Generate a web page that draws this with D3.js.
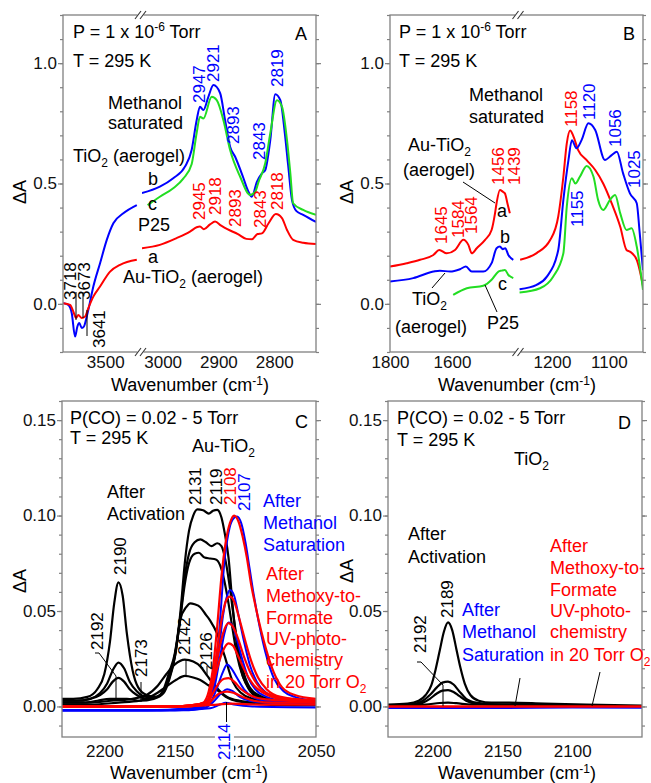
<!DOCTYPE html>
<html>
<head>
<meta charset="utf-8">
<script src="https://cdn.jsdelivr.net/npm/d3@7"></script>
<style>
  body { margin: 0; background: #fff; }
  svg { font-family: "Liberation Sans", Arial, sans-serif; }
</style>
</head>
<body>
<div id="chart-wrapper"></div>
<script>
// ---------- Data: [wavenumber (cm-1), dA] ----------

// Panel A, O-H region (left of the axis break)
const aBlueOH = [[3768,0.003],[3736,-0.004],[3714,-0.039],[3693,-0.136],[3678,-0.094],[3666,-0.08],[3650,-0.10],[3636,-0.094],[3623,-0.066],[3608,-0.025],[3576,0.072],[3533,0.169],[3490,0.266],[3448,0.335],[3384,0.376],[3298,0.41]]
const aRedOH = [[3768,0.003],[3725,-0.004],[3700,-0.039],[3687,-0.059],[3672,-0.046],[3650,-0.059],[3629,-0.053],[3608,-0.018],[3576,0.03],[3533,0.072],[3469,0.134],[3405,0.162],[3298,0.183]]
// Panel A, C-H region (right of the break)
const aBlueCH = [[3037,0.46],[3005,0.487],[2981,0.522],[2960,0.57],[2948,0.639],[2939,0.763],[2933,0.819],[2927,0.805],[2918,0.86],[2909,0.909],[2897,0.876],[2888,0.763],[2879,0.653],[2870,0.611],[2856,0.528],[2847,0.47],[2840,0.445],[2831,0.507],[2822,0.542],[2816,0.556],[2807,0.68],[2798,0.871],[2789,0.846],[2781,0.71],[2775,0.577],[2768,0.43],[2760,0.385],[2748,0.37],[2725,0.34]]
const aGreenCH = [[3027,0.41],[3005,0.445],[2981,0.48],[2963,0.52],[2948,0.58],[2939,0.71],[2933,0.777],[2927,0.77],[2912,0.86],[2903,0.846],[2891,0.763],[2879,0.639],[2861,0.528],[2843,0.452],[2834,0.466],[2828,0.507],[2816,0.584],[2807,0.708],[2795,0.846],[2786,0.819],[2777,0.68],[2771,0.542],[2766,0.418],[2748,0.39],[2725,0.37]]
const aRedCH = [[3037,0.231],[3005,0.245],[2975,0.273],[2951,0.30],[2939,0.318],[2933,0.321],[2926,0.31],[2915,0.33],[2906,0.342],[2895,0.325],[2884,0.31],[2865,0.29],[2850,0.27],[2840,0.268],[2830,0.29],[2822,0.293],[2810,0.335],[2797,0.373],[2786,0.356],[2777,0.307],[2766,0.266],[2748,0.254],[2725,0.249]]

// Panel B, 1800-1400 region
const bRedL = [[1800,0.155],[1746,0.169],[1703,0.183],[1660,0.203],[1641,0.224],[1617,0.21],[1590,0.224],[1563,0.266],[1547,0.245],[1536,0.21],[1520,0.231],[1493,0.266],[1472,0.307],[1461,0.376],[1456,0.418],[1445,0.473],[1436,0.466],[1429,0.459],[1421,0.418],[1413,0.376]]
const bBlueL = [[1800,0.093],[1725,0.107],[1660,0.134],[1639,0.138],[1606,0.134],[1574,0.144],[1555,0.155],[1536,0.134],[1499,0.134],[1472,0.169],[1456,0.231],[1445,0.238],[1436,0.227],[1428,0.231],[1418,0.203],[1402,0.183]]
const bGreenL = [[1596,0.037],[1552,0.065],[1499,0.075],[1472,0.10],[1450,0.134],[1440,0.138],[1429,0.141],[1418,0.12],[1402,0.107]]
// Panel B, 1260-1040 region
const bRedR = [[1256,0.183],[1227,0.211],[1203,0.266],[1189,0.363],[1180,0.528],[1174,0.667],[1168,0.72],[1163,0.70],[1154,0.639],[1139,0.597],[1124,0.556],[1110,0.5],[1095,0.417],[1080,0.32],[1069,0.224],[1063,0.217],[1051,0.183],[1040,0.075]]
const bBlueR = [[1257,0.061],[1227,0.079],[1209,0.113],[1189,0.224],[1180,0.432],[1171,0.598],[1165,0.68],[1157,0.646],[1148,0.68],[1136,0.75],[1124,0.722],[1107,0.598],[1095,0.618],[1086,0.632],[1075,0.542],[1063,0.459],[1051,0.418],[1046,0.30],[1040,0.14]]
const bGreenR = [[1257,0.047],[1221,0.065],[1198,0.113],[1180,0.21],[1174,0.404],[1165,0.522],[1159,0.5],[1151,0.528],[1139,0.573],[1127,0.528],[1119,0.432],[1110,0.39],[1098,0.432],[1089,0.452],[1080,0.376],[1069,0.307],[1060,0.314],[1051,0.238],[1040,0.058]]

// Panel C, CO on Au-TiO2 (one entry per CO pressure)
const cBlack = [
  [[2232,0.004],[2222,0.004],[2212,0.005],[2205,0.009],[2200,0.017],[2196,0.034],[2193,0.054],[2190,0.065],[2187,0.058],[2184,0.038],[2180,0.019],[2176,0.010],[2170,0.006],[2163,0.005],[2158,0.009],[2154,0.018],[2150,0.028],[2146,0.05],[2143,0.075],[2140,0.092],[2137,0.1],[2134,0.1032],[2130,0.1028],[2126,0.101],[2123,0.1025],[2120,0.103],[2117,0.099],[2114.5,0.09],[2112,0.078],[2109,0.052],[2106,0.032],[2103,0.019],[2099,0.011],[2094,0.006],[2085,0.0035],[2070,0.0025],[2050,0.002]],
  [[2232,0.003],[2220,0.003],[2210,0.004],[2203,0.007],[2198,0.012],[2194,0.019],[2190,0.023],[2186,0.02],[2182,0.013],[2177,0.008],[2170,0.005],[2163,0.005],[2158,0.008],[2154,0.016],[2150,0.027],[2146,0.048],[2143,0.068],[2140,0.08],[2136,0.086],[2132,0.0875],[2128,0.086],[2124,0.084],[2120,0.0855],[2117,0.084],[2114,0.076],[2111,0.062],[2108,0.045],[2105,0.03],[2101,0.017],[2096,0.009],[2088,0.005],[2075,0.003],[2050,0.002]],
  [[2232,0.003],[2220,0.003],[2210,0.004],[2203,0.006],[2198,0.009],[2194,0.013],[2190,0.015],[2186,0.013],[2182,0.009],[2177,0.006],[2170,0.004],[2163,0.005],[2158,0.008],[2154,0.015],[2150,0.026],[2146,0.047],[2143,0.064],[2140,0.075],[2136,0.080],[2133,0.0805],[2129,0.078],[2125,0.0775],[2121,0.077],[2118,0.074],[2115,0.066],[2112,0.054],[2109,0.04],[2106,0.027],[2102,0.016],[2097,0.009],[2089,0.005],[2075,0.003],[2050,0.002]],
  [[2232,0.002],[2215,0.002],[2205,0.003],[2196,0.004],[2190,0.004],[2184,0.004],[2175,0.003],[2165,0.004],[2158,0.007],[2154,0.014],[2150,0.026],[2146,0.046],[2142,0.052],[2139,0.054],[2136,0.0535],[2132,0.052],[2128,0.048],[2125,0.045],[2120,0.038],[2115,0.027],[2109,0.013],[2103,0.007],[2095,0.004],[2080,0.002],[2050,0.001]],
  [[2232,0.002],[2210,0.002],[2195,0.003],[2180,0.004],[2170,0.006],[2162,0.011],[2156,0.017],[2150,0.022],[2143,0.0245],[2137,0.0235],[2132,0.021],[2127,0.016],[2123,0.012],[2118,0.008],[2113,0.005],[2104,0.003],[2090,0.002],[2050,0.001]],
  [[2232,0.001],[2210,0.001],[2190,0.002],[2175,0.003],[2165,0.006],[2156,0.0104],[2149,0.014],[2143,0.016],[2137,0.0152],[2132,0.0139],[2126,0.011],[2120,0.0086],[2114,0.005],[2109,0.0034],[2100,0.002],[2085,0.001],[2050,0.0005]]
]
const cBlue = [
  [[2232,-0.002],[2170,-0.002],[2140,-0.001],[2130,0.001],[2125,0.006],[2121,0.02],[2118,0.045],[2115,0.075],[2112,0.091],[2109,0.098],[2106,0.0995],[2103,0.096],[2100,0.086],[2097,0.072],[2094,0.058],[2090,0.042],[2085,0.026],[2080,0.015],[2073,0.008],[2065,0.005],[2050,0.003]],
  [[2232,-0.002],[2160,-0.002],[2135,-0.001],[2128,0.002],[2123,0.01],[2119,0.028],[2116,0.047],[2113,0.058],[2111,0.061],[2108,0.058],[2105,0.048],[2101,0.034],[2097,0.022],[2092,0.013],[2085,0.007],[2075,0.004],[2050,0.002]],
  [[2232,-0.002],[2160,-0.002],[2133,-0.001],[2127,0.002],[2122,0.01],[2118,0.026],[2115,0.038],[2112,0.044],[2109,0.042],[2106,0.035],[2102,0.024],[2098,0.015],[2093,0.009],[2085,0.005],[2075,0.003],[2050,0.002]],
  [[2232,-0.002],[2150,-0.002],[2130,-0.001],[2124,0.003],[2120,0.01],[2116,0.018],[2113,0.022],[2110,0.02],[2106,0.015],[2101,0.009],[2095,0.005],[2085,0.003],[2050,0.002]],
  [[2232,-0.002],[2140,-0.002],[2128,-0.0005],[2122,0.003],[2117,0.007],[2113,0.009],[2109,0.008],[2104,0.005],[2097,0.003],[2085,0.002],[2050,0.001]],
  [[2232,-0.002],[2150,-0.002],[2125,-0.001],[2118,0.001],[2114,0.002],[2108,0.001],[2095,0.0],[2050,-0.0005]]
]
const cRed = [
  [[2232,0.0],[2170,0.0],[2140,0.0],[2130,0.002],[2126,0.008],[2123,0.02],[2120,0.042],[2117,0.068],[2114,0.086],[2111,0.096],[2108,0.1],[2105,0.097],[2102,0.089],[2099,0.078],[2096,0.064],[2093,0.053],[2089,0.04],[2085,0.029],[2080,0.018],[2074,0.01],[2065,0.006],[2050,0.004]],
  [[2232,0.0],[2150,0.0],[2128,0.002],[2124,0.01],[2121,0.025],[2117,0.045],[2114,0.055],[2111,0.0575],[2108,0.055],[2104,0.045],[2100,0.034],[2096,0.024],[2091,0.015],[2085,0.009],[2075,0.005],[2050,0.003]],
  [[2232,0.0],[2150,0.0],[2128,0.002],[2124,0.01],[2120,0.025],[2116,0.038],[2112,0.0436],[2109,0.042],[2105,0.035],[2101,0.026],[2096,0.017],[2090,0.01],[2082,0.006],[2070,0.004],[2050,0.003]],
  [[2232,0.0],[2150,0.0],[2127,0.002],[2124,0.009],[2120,0.02],[2116,0.029],[2112,0.033],[2109,0.032],[2105,0.026],[2100,0.018],[2094,0.011],[2087,0.007],[2075,0.004],[2050,0.003]],
  [[2232,0.0],[2150,0.0],[2127,0.002],[2123,0.007],[2119,0.012],[2115,0.0145],[2112,0.0148],[2108,0.013],[2103,0.009],[2097,0.006],[2088,0.004],[2070,0.003],[2050,0.002]],
  [[2232,0.0],[2150,0.0],[2127,0.001],[2123,0.004],[2118,0.007],[2113,0.0078],[2108,0.007],[2102,0.005],[2094,0.003],[2080,0.002],[2050,0.002]],
  [[2232,0.0],[2150,0.0],[2120,0.001],[2110,0.0015],[2090,0.001],[2050,0.001]]
]

// Panel D, CO on TiO2
const dBlack = [
  [[2232,0.001],[2218,0.0015],[2210,0.003],[2205,0.006],[2201,0.011],[2198,0.019],[2195,0.029],[2192,0.039],[2189,0.044],[2186,0.04],[2183,0.03],[2180,0.02],[2177,0.012],[2173,0.006],[2167,0.003],[2158,0.002],[2145,0.002],[2120,0.0015],[2090,0.001],[2050,0.0005]],
  [[2232,0.0005],[2215,0.001],[2207,0.003],[2202,0.006],[2197,0.01],[2193,0.0125],[2189,0.013],[2185,0.0115],[2181,0.008],[2176,0.004],[2169,0.002],[2155,0.001],[2100,0.0005],[2050,0.0]],
  [[2232,0.0005],[2215,0.001],[2207,0.002],[2202,0.004],[2197,0.0068],[2193,0.0083],[2189,0.0086],[2185,0.0076],[2181,0.0055],[2176,0.003],[2169,0.0015],[2155,0.001],[2100,0.0005],[2050,0.0]],
  [[2232,0.0005],[2205,0.001],[2195,0.0018],[2189,0.002],[2183,0.0017],[2172,0.001],[2145,0.001],[2140,0.0015],[2135,0.001],[2100,0.0005],[2050,0.0]]
]
const dBlue = [[2232,-0.0008],[2150,-0.0008],[2100,-0.0006],[2050,-0.0007]]
const dRed = [[2232,0.0],[2150,0.0],[2100,0.0],[2050,0.0]]

// Tick values
const aTicksLeft = [3500], aTicksRight = [3000, 2900, 2800]
const bTicksLeft = [1800, 1600], bTicksRight = [1200, 1100]
const cTicks = [2200, 2150, 2100, 2050], dTicks = [2200, 2150, 2100]
const yTicksAB = [0, 0.5, 1.0], yTicksCD = [0, 0.05, 0.10, 0.15]

// Colours
const BLUE = "#0000ff", RED = "#ff0000", GREEN = "#22dd22", BLACK = "#000"
const FRAME = "#808080"

// ---------- Drawing ----------
const svg = d3.select("#chart-wrapper").append("svg")
  .attr("width", 651).attr("height", 783)
svg.append("rect").attr("width", 651).attr("height", 783).attr("fill", "#fff")

// text with _{sub} and ^{sup} markup
const addText = (g, str, x, y, opt = {}) => {
  const t = g.append("text").attr("fill", opt.color || BLACK).attr("font-size", opt.size || 18)
  if (opt.rot) t.attr("transform", `translate(${x},${y}) rotate(-90)`).attr("dy", "0.35em")
  else t.attr("x", x).attr("y", y)
  if (opt.anchor) t.attr("text-anchor", opt.anchor)
  const parts = str.split(/(_\{[^}]*\}|\^\{[^}]*\})/).filter(s => s)
  if (parts.length == 1) t.text(str)
  else {
    let shift = 0
    parts.forEach(s => {
      let d = 0, txt = s, small = false
      if (s[0] == "_") { d = 5; txt = s.slice(2, -1); small = true }
      else if (s[0] == "^") { d = opt.supShift || -7; txt = s.slice(2, -1); small = true }
      const ts = t.append("tspan").text(txt)
      if (d - shift != 0) ts.attr("dy", d - shift)
      if (small) ts.attr("font-size", 12)
      shift = d
    })
  }
  // white patch behind the label (it sits on top of a tick label)
  if (opt.bg) {
    const b = t.node().getBBox()
    g.insert("rect", () => t.node())
      .attr("transform", t.attr("transform"))
      .attr("x", b.x - 1).attr("y", b.y).attr("width", b.width + 2).attr("height", b.height)
      .attr("fill", "#fff")
  }
  return t
}

const drawPanel = (p) => {
  const g = svg.append("g")
  const y = d3.scaleLinear().domain(p.yDomain).range([p.bottom, p.top])
  const xs = p.segs.map(s => d3.scaleLinear().domain(s.domain).range(s.range))

  p.segs.forEach((s, i) => {
    svg.append("clipPath").attr("id", `${p.id}clip${i}`).append("rect")
      .attr("x", s.range[0]).attr("y", p.top)
      .attr("width", s.range[1] - s.range[0]).attr("height", p.bottom - p.top)
  })

  // spectra
  p.series.forEach(sr => {
    const x = xs[sr.seg]
    const line = d3.line().x(d => x(d[0])).y(d => y(d[1])).curve(d3.curveMonotoneX)
    g.append("path").attr("d", line(sr.data))
      .attr("fill", "none").attr("stroke", sr.color).attr("stroke-width", sr.w || 2)
      .attr("stroke-linejoin", "round")
      .attr("clip-path", `url(#${p.id}clip${sr.seg})`)
  })

  // marker / leader lines
  p.leaders.forEach(pts => {
    g.append("path").attr("d", d3.line()(pts)).attr("fill", "none")
      .attr("stroke", BLACK).attr("stroke-width", 1)
  })

  // frame
  g.append("rect").attr("x", p.left).attr("y", p.top)
    .attr("width", p.right - p.left).attr("height", p.bottom - p.top)
    .attr("fill", "none").attr("stroke", FRAME).attr("stroke-width", 1.3)

  // y axes, left with labels, right mirror
  const minor = d3.range(p.yMinor[0], p.yMinor[1] + 1e-9, p.yMinor[2])
  const styleAxis = (a) => {
    a.attr("font-size", 17).attr("font-family", null)
    a.select(".domain").remove()
    a.selectAll("line").attr("stroke", FRAME).attr("stroke-width", 1.2)
    a.selectAll("text").attr("fill", "#111")
  }
  const yl = g.append("g").attr("transform", `translate(${p.left},0)`)
    .call(d3.axisLeft(y).tickValues(p.yTicks).tickSize(5).tickPadding(1).tickFormat(d3.format(p.fmt)))
  styleAxis(yl)
  styleAxis(g.append("g").attr("transform", `translate(${p.left},0)`)
    .call(d3.axisLeft(y).tickValues(minor).tickSize(3).tickFormat("")))
  styleAxis(g.append("g").attr("transform", `translate(${p.right},0)`)
    .call(d3.axisRight(y).tickValues(p.yTicks).tickSize(5).tickFormat("")))
  styleAxis(g.append("g").attr("transform", `translate(${p.right},0)`)
    .call(d3.axisRight(y).tickValues(minor).tickSize(3).tickFormat("")))

  // x axes per segment
  xs.forEach((x, i) => {
    const xa = g.append("g").attr("transform", `translate(0,${p.bottom})`)
      .call(d3.axisBottom(x).tickValues(p.xTicks[i]).tickSize(0).tickPadding(p.xPad).tickFormat(d3.format("d")))
    styleAxis(xa)
  })

  // axis break marks
  if (p.breakX) {
    [p.top, p.bottom].forEach(yy => {
      g.append("rect").attr("x", p.breakX - 3).attr("y", yy - 2).attr("width", 6).attr("height", 4).attr("fill", "#fff")
      ;[-2.5, 2.5].forEach(dx => {
        g.append("line").attr("x1", p.breakX + dx - 3).attr("y1", yy + 4)
          .attr("x2", p.breakX + dx + 3).attr("y2", yy - 4)
          .attr("stroke", "#333").attr("stroke-width", 1.1)
      })
    })
  }

  // axis titles
  addText(g, "Wavenumber (cm^{-1})", p.xTitle[0], p.xTitle[1], { anchor: "middle", size: 18, supShift: -6 })
  addText(g, "\u0394A", p.yTitle[0], p.yTitle[1], { anchor: "middle", size: 18, rot: true })

  // annotations
  p.notes.forEach(n => addText(g, n.t, n.x, n.y, { color: n.c, rot: n.r, size: n.r ? 17 : 18, bg: n.bg }))
}

// ---------- Panel layouts ----------
const panelA = {
  id: "A", left: 63, right: 316, top: 15, bottom: 352,
  segs: [{ domain: [3770, 3284], range: [63, 139] }, { domain: [3037, 2725], range: [142, 316] }],
  yDomain: [-0.2, 1.2], yTicks: yTicksAB, yMinor: [-0.2, 1.2, 0.1], fmt: ".1f",
  xTicks: [aTicksLeft, aTicksRight], xPad: 4, breakX: 140.5,
  xTitle: [190, 391], yTitle: [20, 192],
  series: [
    { data: aBlueOH, seg: 0, color: BLUE }, { data: aRedOH, seg: 0, color: RED },
    { data: aBlueCH, seg: 1, color: BLUE }, { data: aGreenCH, seg: 1, color: GREEN },
    { data: aRedCH, seg: 1, color: RED }
  ],
  leaders: [[[76, 292], [76, 320]], [[83, 292], [83, 318]], [[87, 310], [87, 336]]],
  notes: [
    { t: "P = 1 x 10^{-6} Torr", x: 73, y: 38 }, { t: "T = 295 K", x: 73, y: 67 },
    { t: "A", x: 295, y: 40 },
    { t: "Methanol", x: 108, y: 109 }, { t: "saturated", x: 108, y: 129 },
    { t: "TiO_{2} (aerogel)", x: 73, y: 162 },
    { t: "b", x: 148, y: 185 }, { t: "c", x: 148, y: 210 }, { t: "P25", x: 138, y: 231 },
    { t: "a", x: 148, y: 263 }, { t: "Au-TiO_{2} (aerogel)", x: 123, y: 283 },
    { t: "2947", x: 199, y: 103, c: BLUE, r: true }, { t: "2921", x: 213, y: 82, c: BLUE, r: true },
    { t: "2893", x: 233, y: 144, c: BLUE, r: true }, { t: "2843", x: 259, y: 160, c: BLUE, r: true },
    { t: "2819", x: 277, y: 87, c: BLUE, r: true },
    { t: "2945", x: 199, y: 220, c: RED, r: true }, { t: "2918", x: 215, y: 215, c: RED, r: true },
    { t: "2893", x: 235, y: 227, c: RED, r: true }, { t: "2843", x: 260, y: 228, c: RED, r: true },
    { t: "2818", x: 277, y: 210, c: RED, r: true },
    { t: "3718", x: 70, y: 300, r: true }, { t: "3673", x: 84, y: 300, r: true },
    { t: "3641", x: 99, y: 348, r: true }
  ]
}

const panelB = {
  id: "B", left: 390, right: 643, top: 15, bottom: 352,
  segs: [{ domain: [1800, 1390], range: [390, 517] }, { domain: [1258, 1040], range: [519, 643] }],
  yDomain: [-0.2, 1.2], yTicks: yTicksAB, yMinor: [-0.2, 1.2, 0.1], fmt: ".1f",
  xTicks: [bTicksLeft, bTicksRight], xPad: 4, breakX: 518,
  xTitle: [517, 391], yTitle: [347, 192],
  series: [
    { data: bRedL, seg: 0, color: RED }, { data: bBlueL, seg: 0, color: BLUE }, { data: bGreenL, seg: 0, color: GREEN },
    { data: bRedR, seg: 1, color: RED }, { data: bBlueR, seg: 1, color: BLUE }, { data: bGreenR, seg: 1, color: GREEN }
  ],
  leaders: [[[463, 182], [495, 203]], [[432, 288], [445, 273]], [[497, 312], [485, 285]]],
  notes: [
    { t: "P = 1 x 10^{-6} Torr", x: 399, y: 38 }, { t: "T = 295 K", x: 399, y: 67 },
    { t: "B", x: 623, y: 40 },
    { t: "Methanol", x: 469, y: 101 }, { t: "saturated", x: 469, y: 123 },
    { t: "Au-TiO_{2}", x: 408, y: 151 }, { t: "(aerogel)", x: 403, y: 176 },
    { t: "1456", x: 498, y: 185, c: RED, r: true }, { t: "1439", x: 514, y: 185, c: RED, r: true },
    { t: "1645", x: 441, y: 244, c: RED, r: true }, { t: "1584", x: 458, y: 238, c: RED, r: true },
    { t: "1564", x: 471, y: 234, c: RED, r: true },
    { t: "a", x: 497, y: 217 }, { t: "b", x: 500, y: 243 }, { t: "c", x: 498, y: 290 },
    { t: "TiO_{2}", x: 412, y: 305 }, { t: "(aerogel)", x: 395, y: 333 }, { t: "P25", x: 487, y: 329 },
    { t: "1158", x: 571, y: 127, c: RED, r: true }, { t: "1120", x: 589, y: 120, c: BLUE, r: true },
    { t: "1056", x: 615, y: 147, c: BLUE, r: true }, { t: "1025", x: 634, y: 188, c: BLUE, r: true },
    { t: "1155", x: 577, y: 227, c: BLUE, r: true }
  ]
}

const panelC = {
  id: "C", left: 62, right: 316, top: 401, bottom: 737,
  segs: [{ domain: [2230, 2050], range: [62, 316] }],
  yDomain: [-0.016, 0.16], yTicks: yTicksCD, yMinor: [-0.01, 0.16, 0.01], fmt: ".2f",
  xTicks: [cTicks], xPad: 8,
  xTitle: [189, 779], yTitle: [20, 581],
  series: [
    ...cBlack.map(d => ({ data: d, seg: 0, color: BLACK, w: 2.2 })),
    ...cBlue.map(d => ({ data: d, seg: 0, color: BLUE, w: 2 })),
    ...cRed.map(d => ({ data: d, seg: 0, color: RED, w: 2.2 }))
  ],
  leaders: [[[95, 653], [99, 653], [116, 676], [116, 699]], [[141, 682], [141, 702]],
    [[186, 659], [186, 676]], [[207, 666], [207, 675]], [[226.5, 702], [226.5, 722]]],
  notes: [
    { t: "P(CO) = 0.02 - 5 Torr", x: 70, y: 424 }, { t: "T = 295 K", x: 70, y: 444 },
    { t: "C", x: 295, y: 428 }, { t: "Au-TiO_{2}", x: 192, y: 452 },
    { t: "After", x: 107, y: 498 }, { t: "Activation", x: 107, y: 520 },
    { t: "2131", x: 195, y: 505, r: true }, { t: "2119", x: 216, y: 505, r: true },
    { t: "2108", x: 230, y: 505, c: RED, r: true }, { t: "2107", x: 244, y: 511, c: BLUE, r: true },
    { t: "2190", x: 120, y: 575, r: true }, { t: "2192", x: 97, y: 650, r: true },
    { t: "2173", x: 141, y: 677, r: true }, { t: "2142", x: 184, y: 655, r: true },
    { t: "2126", x: 206, y: 670, r: true }, { t: "2114", x: 224, y: 760, c: BLUE, r: true, bg: true },
    { t: "After", x: 263, y: 507, c: BLUE }, { t: "Methanol", x: 263, y: 529, c: BLUE },
    { t: "Saturation", x: 263, y: 551, c: BLUE },
    { t: "After", x: 266, y: 580, c: RED }, { t: "Methoxy-to-", x: 266, y: 602, c: RED },
    { t: "Formate", x: 266, y: 624, c: RED }, { t: "UV-photo-", x: 266, y: 645, c: RED },
    { t: "chemistry", x: 266, y: 666, c: RED }, { t: "in 20 Torr O_{2}", x: 266, y: 688, c: RED }
  ]
}

const panelD = {
  id: "D", left: 388, right: 642, top: 401, bottom: 737,
  segs: [{ domain: [2232, 2050], range: [388, 642] }],
  yDomain: [-0.016, 0.16], yTicks: yTicksCD, yMinor: [-0.01, 0.16, 0.01], fmt: ".2f",
  xTicks: [dTicks], xPad: 8,
  xTitle: [517, 779], yTitle: [347, 571],
  series: [
    ...dBlack.map(d => ({ data: d, seg: 0, color: BLACK, w: 2.2 })),
    { data: dBlue, seg: 0, color: BLUE, w: 2 },
    { data: dRed, seg: 0, color: RED, w: 2.4 }
  ],
  leaders: [[[417, 662], [421, 662], [443, 685], [443, 706]], [[520, 678], [515, 706]], [[600, 672], [592, 706]]],
  notes: [
    { t: "P(CO) = 0.02 - 5 Torr", x: 397, y: 424 }, { t: "T = 295 K", x: 397, y: 446 },
    { t: "D", x: 618, y: 429 }, { t: "TiO_{2}", x: 514, y: 465 },
    { t: "After", x: 408, y: 540 }, { t: "Activation", x: 408, y: 563 },
    { t: "2189", x: 447, y: 618, r: true }, { t: "2192", x: 420, y: 653, r: true },
    { t: "After", x: 462, y: 616, c: BLUE }, { t: "Methanol", x: 462, y: 638, c: BLUE },
    { t: "Saturation", x: 462, y: 661, c: BLUE },
    { t: "After", x: 550, y: 552, c: RED }, { t: "Methoxy-to-", x: 550, y: 574, c: RED },
    { t: "Formate", x: 550, y: 596, c: RED }, { t: "UV-photo-", x: 550, y: 617, c: RED },
    { t: "chemistry", x: 550, y: 638, c: RED }, { t: "in 20 Torr O_{2}", x: 550, y: 661, c: RED }
  ]
}

;[panelA, panelB, panelC, panelD].forEach(drawPanel)
</script>
</body>
</html>
